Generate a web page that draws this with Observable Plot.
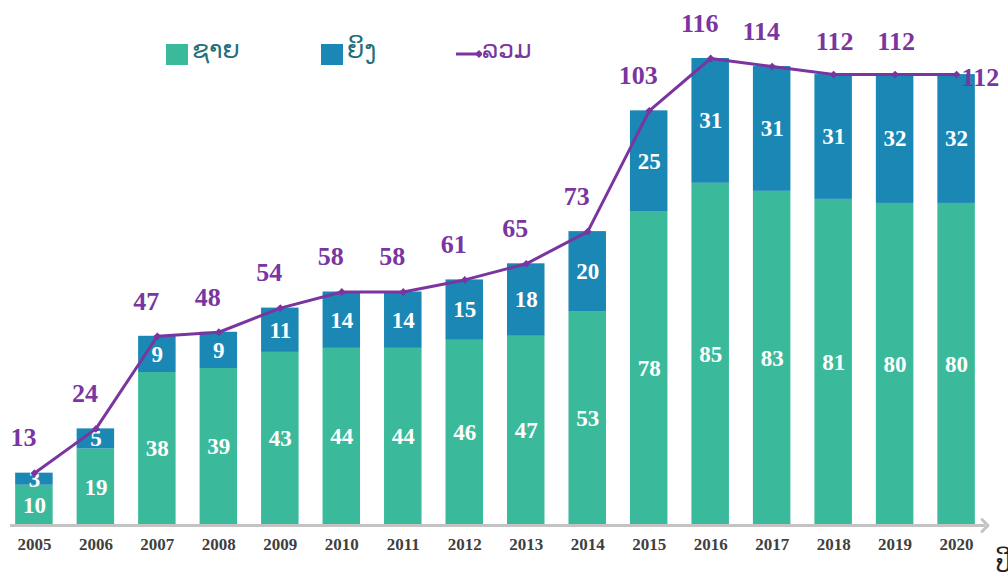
<!DOCTYPE html>
<html>
<head>
<meta charset="utf-8">
<script src="https://cdn.jsdelivr.net/npm/d3@7"></script>
<script src="https://cdn.jsdelivr.net/npm/@observablehq/plot@0.6"></script>
<style>
  html, body { margin: 0; padding: 0; background: #fff; width: 1008px; height: 573px; overflow: hidden; }
  #wrap { position: relative; width: 1008px; height: 573px; }
  .leg { position: absolute; display: flex; align-items: center; font-family: "DejaVu Sans", "Noto Sans", sans-serif; font-size: 25px; }
  .sw { width: 22px; height: 21px; display: inline-block; margin-right: 4px; margin-top: 10px; }
  #unit { position: absolute; left: 996px; top: 550px; font-family: "DejaVu Sans", sans-serif; font-size: 24px; color: #222; }
</style>
</head>
<body>
<div id="wrap">
  <div id="chart"></div>
  <div class="leg" style="left:166px; top:34px; color:#1f6f7c;"><span class="sw" style="background:#3bba9b"></span>ຊາຍ</div>
  <div class="leg" style="left:321px; top:34px; color:#1f6f7c;"><span class="sw" style="background:#1b87b5"></span>ຍິງ</div>
  <div class="leg" style="left:456px; top:34px; color:#7a35a0;">
    <svg width="26" height="20" style="margin-top:10px"><line x1="0" y1="10" x2="22" y2="10" stroke="#7a35a0" stroke-width="3"/><path d="M19,10 L23,6 L27,10 L23,14 Z" fill="#7a35a0"/></svg>ລວມ
  </div>
  <div id="unit">ປີ</div>
</div>
<script>
const years = ["2005","2006","2007","2008","2009","2010","2011","2012","2013","2014","2015","2016","2017","2018","2019","2020"];
const male = [10,19,38,39,43,44,44,46,47,53,78,85,83,81,80,80];
const female = [3,5,9,9,11,14,14,15,18,20,25,31,31,31,32,32];
const total = [13,24,47,48,54,58,58,61,65,73,103,116,114,112,112,112];
const seriesNames = ["ຊາຍ", "ຍິງ"];
const colors = ["#3bba9b", "#1b87b5"];
const purple = "#7a35a0";

const rows = [];
years.forEach((y, i) => {
  rows.push({year: y, sex: seriesNames[0], value: male[i]});
  rows.push({year: y, sex: seriesNames[1], value: female[i]});
});
const totals = years.map((y, i) => ({year: y, total: total[i]}));
const totalsLeft = totals.slice(0, 13);
const totalsMid = totals.slice(13, 15);
const totalsLast = totals.slice(15);

const serif = "'Liberation Serif', 'DejaVu Serif', serif";
const totalStyle = {x: "year", y: "total", text: "total", fill: purple, fontSize: 26, fontWeight: "bold", fontFamily: serif};

const chart = Plot.plot({
  width: 1008,
  height: 573,
  marginLeft: 9,
  marginRight: 27,
  marginTop: 58,
  marginBottom: 48,
  style: {background: "transparent", overflow: "visible"},
  x: {domain: years, paddingInner: 0.39, paddingOuter: 0.1, round: false, label: null},
  y: {domain: [0, 116], axis: null},
  color: {domain: seriesNames, range: colors},
  marks: [
    Plot.barY(rows, {x: "year", y: "value", fill: "sex", order: seriesNames}),
    Plot.ruleY([0], {stroke: "#c3c3c3", strokeWidth: 3, insetLeft: 1, insetRight: -4, markerEnd: "arrow"}),
    Plot.axisX({tickSize: 0, tickPadding: 12, fontSize: 17, fontWeight: "bold", fontFamily: serif, fill: "#3f3f3f", label: null}),
    Plot.text(rows, Plot.stackY({x: "year", y: "value", z: "sex", order: seriesNames, text: "value", fill: "white", fontSize: 23, fontWeight: "bold", fontFamily: serif})),
    Plot.line(totals, {x: "year", y: "total", stroke: purple, strokeWidth: 3}),
    Plot.dot(totals, {x: "year", y: "total", symbol: "diamond2", fill: purple, r: 3.5}),
    Plot.text(totalsLeft, {...totalStyle, dx: -11, dy: -35}),
    Plot.text(totalsMid, {...totalStyle, dx: 1, dy: -33}),
    Plot.text(totalsLast, {...totalStyle, dx: 5, dy: 3, textAnchor: "start"})
  ]
});
document.getElementById("chart").appendChild(chart);
</script>
</body>
</html>
